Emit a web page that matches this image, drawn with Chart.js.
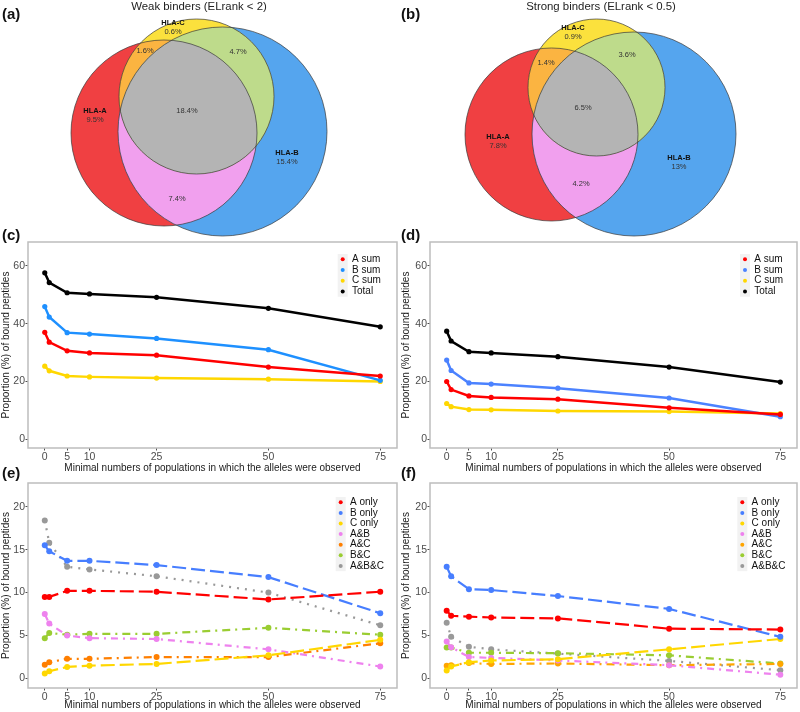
<!DOCTYPE html>
<html>
<head>
<meta charset="utf-8">
<script src="https://cdn.jsdelivr.net/npm/chart.js@4.4.1/dist/chart.umd.min.js"></script>
<style>
  body { margin: 0; background: #fff; width: 800px; height: 712px; position: relative; overflow: hidden;
         font-family: "Liberation Sans", Arial, sans-serif; }
  canvas { position: absolute; }
  .tag { position: absolute; font-size: 15px; font-weight: bold; color: #111; line-height: 17px; }
</style>
</head>
<body>
<canvas id="vennWeak" width="400" height="240" style="left:0;top:0"></canvas>
<canvas id="vennStrong" width="400" height="240" style="left:400px;top:0"></canvas>
<canvas id="sumWeak" width="400" height="250" style="left:0;top:228px"></canvas>
<canvas id="sumStrong" width="400" height="250" style="left:400px;top:228px"></canvas>
<canvas id="onlyWeak" width="400" height="242" style="left:0;top:470px"></canvas>
<canvas id="onlyStrong" width="400" height="242" style="left:400px;top:470px"></canvas>
<div class="tag" style="left:2px;top:5px">(a)</div>
<div class="tag" style="left:401px;top:5px">(b)</div>
<div class="tag" style="left:2px;top:226px">(c)</div>
<div class="tag" style="left:401px;top:226px">(d)</div>
<div class="tag" style="left:2px;top:464px">(e)</div>
<div class="tag" style="left:401px;top:464px">(f)</div>
<script>
// Venn regions (percent of bound peptides)
const vennRegions = ['A only', 'B only', 'C only', 'A&B', 'A&C', 'B&C', 'A&B&C'];
const vennNames = ['HLA-A', 'HLA-B', 'HLA-C', '', '', '', ''];
const weakVenn = [9.5, 15.4, 0.6, 7.4, 1.6, 4.7, 18.4];
const strongVenn = [7.8, 13, 0.9, 4.2, 1.4, 3.6, 6.5];

// Line panels
const populations = [0, 1, 5, 10, 25, 50, 75];
const xTickValues = [0, 5, 10, 25, 50, 75];
const sumTicks = [0, 20, 40, 60];
const onlyTicks = [0, 5, 10, 15, 20];

const sumLabels = ['A sum', 'B sum', 'C sum', 'Total'];
const weakASum = [37.0, 33.6, 30.6, 29.9, 29.1, 25.0, 21.9];
const weakBSum = [45.9, 42.3, 36.9, 36.4, 34.9, 31.0, 20.4];
const weakCSum = [25.3, 23.7, 21.9, 21.6, 21.2, 20.8, 20.0];
const weakTotal = [57.6, 54.2, 50.7, 50.3, 49.1, 45.3, 38.9];
const strongASum = [20.0, 17.2, 15.0, 14.5, 13.9, 10.9, 8.6];
const strongBSum = [27.4, 23.8, 19.5, 19.1, 17.7, 14.3, 7.8];
const strongCSum = [12.4, 11.3, 10.3, 10.2, 9.8, 9.6, 8.9];
const strongTotal = [37.4, 34.0, 30.3, 29.9, 28.6, 25.0, 19.8];

const onlyLabels = ['A only', 'B only', 'C only', 'A&B', 'A&C', 'B&C', 'A&B&C'];
const weakAOnly = [9.5, 9.5, 10.2, 10.2, 10.1, 9.2, 10.1];
const weakBOnly = [15.5, 14.8, 13.7, 13.7, 13.2, 11.8, 7.6];
const weakCOnly = [0.6, 0.85, 1.35, 1.5, 1.7, 2.7, 4.5];
const weakAB = [7.5, 6.4, 5.0, 4.7, 4.6, 3.4, 1.4];
const weakAC = [1.6, 1.9, 2.3, 2.3, 2.5, 2.5, 4.1];
const weakBC = [4.7, 5.3, 5.1, 5.2, 5.2, 5.9, 5.1];
const weakABC = [18.4, 15.8, 13.0, 12.7, 11.9, 10.0, 6.2];
const strongAOnly = [7.9, 7.3, 7.2, 7.1, 7.0, 5.8, 5.7];
const strongBOnly = [13.0, 11.9, 10.4, 10.3, 9.6, 8.1, 4.85];
const strongCOnly = [0.95, 1.4, 1.9, 2.1, 2.25, 3.4, 4.6];
const strongAB = [4.3, 3.65, 2.5, 2.4, 2.1, 1.55, 0.45];
const strongAC = [1.5, 1.55, 1.8, 1.7, 1.75, 1.55, 1.7];
const strongBC = [3.6, 3.6, 3.0, 3.0, 2.95, 2.7, 1.75];
const strongABC = [6.5, 4.85, 3.7, 3.4, 2.9, 2.05, 0.97];

const FONT = '"Liberation Sans", Arial, sans-serif';
const regionColors = ['#F04042', '#55A5EE', '#FBE13D', '#F1A0EE', '#FBB441', '#BEDB8B', '#B4B4B4'];

// Venn: fill the seven regions by clipping to the three circles drawn by the bubble dataset
const vennPlugin = {
    id: 'vennPlugin',
    beforeDatasetsDraw(chart) {
        const ctx = chart.ctx;
        const c = chart.getDatasetMeta(0).data.map(el => ({ x: el.x, y: el.y, r: el.options.radius }));
        const path = k => { ctx.beginPath(); ctx.arc(c[k].x, c[k].y, c[k].r, 0, Math.PI * 2); };
        const fillIn = (clips, k, color) => {
            ctx.save();
            clips.forEach(j => { path(j); ctx.clip(); });
            path(k);
            ctx.fillStyle = color;
            ctx.fill();
            ctx.restore();
        };
        fillIn([], 0, regionColors[0]);
        fillIn([], 1, regionColors[1]);
        fillIn([], 2, regionColors[2]);
        fillIn([0], 1, regionColors[3]);
        fillIn([0], 2, regionColors[4]);
        fillIn([1], 2, regionColors[5]);
        fillIn([0, 1], 2, regionColors[6]);
    },
    afterDatasetsDraw(chart, args, opts) {
        const ctx = chart.ctx;
        const pts = chart.getDatasetMeta(1).data;
        ctx.save();
        ctx.textAlign = 'center';
        ctx.textBaseline = 'middle';
        pts.forEach((el, i) => {
            const name = vennNames[i];
            const txt = opts.values[i] + '%';
            if (name) {
                ctx.font = 'bold 7.5px ' + FONT;
                ctx.fillStyle = '#111';
                ctx.fillText(name, el.x, el.y - 4.5);
                ctx.font = '7.5px ' + FONT;
                ctx.fillStyle = '#333';
                ctx.fillText(txt, el.x, el.y + 4.5);
            } else {
                ctx.font = '7.5px ' + FONT;
                ctx.fillStyle = '#333';
                ctx.fillText(txt, el.x, el.y);
            }
        });
        ctx.font = '11.4px ' + FONT;
        ctx.fillStyle = '#222';
        ctx.fillText(opts.title, opts.titleX, 7);
        ctx.restore();
    }
};

function makeVenn(id, values, title, titleX, circles, anchors) {
    new Chart(document.getElementById(id), {
        type: 'bubble',
        data: {
            datasets: [{
                data: circles,
                backgroundColor: 'rgba(0,0,0,0)',
                borderColor: '#3a3a3a',
                borderWidth: 0.7,
                clip: false
            }, {
                type: 'scatter',
                data: anchors,
                pointRadius: 0,
                clip: false
            }]
        },
        options: {
            responsive: false,
            animation: false,
            events: [],
            layout: { padding: 0, autoPadding: false },
            plugins: {
                legend: { display: false },
                tooltip: { enabled: false },
                vennPlugin: { values: values, title: title, titleX: titleX }
            },
            scales: {
                x: { type: 'linear', min: 0, max: 400, display: false },
                y: { type: 'linear', min: 0, max: 240, reverse: true, display: false }
            }
        },
        plugins: [vennPlugin]
    });
}

makeVenn('vennWeak', weakVenn, 'Weak binders (ELrank < 2)', 199,
    [{ x: 164, y: 133, r: 93 }, { x: 222.5, y: 131.5, r: 104.5 }, { x: 196.5, y: 96.5, r: 77.5 }],
    [{ x: 95, y: 115.5 }, { x: 287, y: 157.5 }, { x: 173, y: 27.5 }, { x: 177, y: 199 },
     { x: 145, y: 51 }, { x: 238, y: 52 }, { x: 187, y: 111 }]);

makeVenn('vennStrong', strongVenn, 'Strong binders (ELrank < 0.5)', 201,
    [{ x: 151.5, y: 134.5, r: 86.5 }, { x: 234, y: 134, r: 102 }, { x: 196.5, y: 87.5, r: 68.5 }],
    [{ x: 98, y: 141 }, { x: 279, y: 162 }, { x: 173, y: 32.5 }, { x: 181, y: 184 },
     { x: 146, y: 63 }, { x: 227, y: 55 }, { x: 183, y: 108 }]);

// Panel border
const panelBox = {
    id: 'panelBox',
    afterDraw(chart) {
        const a = chart.chartArea;
        const ctx = chart.ctx;
        ctx.save();
        ctx.strokeStyle = '#BDBDBD';
        ctx.lineWidth = 1.5;
        ctx.strokeRect(a.left, a.top, a.right - a.left, a.bottom - a.top);
        ctx.restore();
    }
};

// ggplot-like legend inside the panel
const keyLegend = {
    id: 'keyLegend',
    afterDraw(chart, args, opts) {
        const ctx = chart.ctx;
        const a = chart.chartArea;
        const dotX = a.right - opts.right;
        const y0 = a.top + opts.top;
        const sets = chart.data.datasets;
        ctx.save();
        ctx.fillStyle = '#F2F2F2';
        ctx.fillRect(dotX - 5, y0 - opts.row / 2, 10, opts.row * sets.length);
        ctx.font = '10px ' + FONT;
        ctx.textBaseline = 'middle';
        sets.forEach((ds, i) => {
            const y = y0 + i * opts.row;
            ctx.fillStyle = ds.borderColor;
            ctx.beginPath();
            ctx.arc(dotX, y, 2, 0, Math.PI * 2);
            ctx.fill();
            ctx.fillStyle = '#111';
            ctx.fillText(ds.label, dotX + 9.3, y);
        });
        ctx.restore();
    }
};

function makeLine(id, labels, series, colors, dashes, yTicks, yMin, yMax, lay) {
    new Chart(document.getElementById(id), {
        type: 'line',
        data: {
            datasets: labels.map((lab, i) => ({
                label: lab,
                data: populations.map((p, j) => ({ x: p, y: series[i][j] })),
                borderColor: colors[i],
                backgroundColor: colors[i],
                pointBackgroundColor: colors[i],
                pointBorderWidth: 0,
                pointRadius: lay.point,
                borderWidth: lay.width,
                borderDash: dashes[i],
                tension: 0,
                fill: false
            }))
        },
        options: {
            responsive: false,
            animation: false,
            events: [],
            layout: { padding: { top: lay.top, right: 3, left: 0, bottom: 0 }, autoPadding: false },
            plugins: {
                legend: { display: false },
                tooltip: { enabled: false },
                keyLegend: lay.legend
            },
            scales: {
                x: {
                    type: 'linear', min: -3.75, max: 78.75,
                    afterBuildTicks: s => { s.ticks = xTickValues.map(v => ({ value: v })); },
                    afterFit: s => { s.height = lay.xh; },
                    ticks: { autoSkip: false, maxRotation: 0, padding: 0, color: '#4D4D4D', font: { family: FONT, size: 10.5 } },
                    grid: { drawOnChartArea: false, drawTicks: true, tickLength: 2.5, color: '#4D4D4D' },
                    border: { display: false },
                    title: { display: true, text: 'Minimal numbers of populations in which the alleles were observed',
                             color: '#1a1a1a', font: { family: FONT, size: 10 }, padding: { top: 0, bottom: lay.xtPad } }
                },
                y: {
                    type: 'linear', min: yMin, max: yMax,
                    afterBuildTicks: s => { s.ticks = yTicks.map(v => ({ value: v })); },
                    afterFit: s => { s.width = lay.yw; },
                    ticks: { padding: 0.5, color: '#4D4D4D', font: { family: FONT, size: 10.5 } },
                    grid: { drawOnChartArea: false, drawTicks: true, tickLength: 2.5, color: '#4D4D4D' },
                    border: { display: false },
                    title: { display: true, text: 'Proportion (%) of bound peptides',
                             color: '#1a1a1a', font: { family: FONT, size: 10 }, padding: { top: 0, bottom: 0 } }
                }
            }
        },
        plugins: [panelBox, keyLegend]
    });
}

const solid = [[], [], [], []];
const onlyDashes = [[14, 5], [14, 5], [14, 5], [7, 5, 2, 5], [8, 5, 2, 5], [8, 5, 2, 5], [2, 6]];

makeLine('sumWeak', sumLabels, [weakASum, weakBSum, weakCSum, weakTotal],
    ['#FF0000', '#1E90FF', '#FFD700', '#000000'], solid, sumTicks, -3, 68.25,
    { top: 14, xh: 30, yw: 28, xtPad: 3.7, width: 2.5, point: 2.6,
      legend: { right: 54.3, top: 17.3, row: 10.7 } });

makeLine('sumStrong', sumLabels, [strongASum, strongBSum, strongCSum, strongTotal],
    ['#FF0000', '#4B82FF', '#FFD700', '#000000'], solid, sumTicks, -3, 68.25,
    { top: 14, xh: 30, yw: 30, xtPad: 3.7, width: 2.5, point: 2.6,
      legend: { right: 52, top: 17.3, row: 10.7 } });

makeLine('onlyWeak', onlyLabels, [weakAOnly, weakBOnly, weakCOnly, weakAB, weakAC, weakBC, weakABC],
    ['#FF0000', '#477EFF', '#FFD700', '#EE82EE', '#FF7F00', '#9ACD32', '#999999'], onlyDashes, onlyTicks, -1.1, 22.75,
    { top: 13, xh: 24, yw: 28, xtPad: 1, width: 2.2, point: 3,
      legend: { right: 56.3, top: 19.3, row: 10.6 } });

makeLine('onlyStrong', onlyLabels, [strongAOnly, strongBOnly, strongCOnly, strongAB, strongAC, strongBC, strongABC],
    ['#FF0000', '#477EFF', '#FFD700', '#EE82EE', '#FFA500', '#9ACD32', '#999999'], onlyDashes, onlyTicks, -1.1, 22.75,
    { top: 13, xh: 24, yw: 30, xtPad: 1, width: 2.2, point: 3,
      legend: { right: 54.7, top: 19.3, row: 10.6 } });
</script>
</body>
</html>
